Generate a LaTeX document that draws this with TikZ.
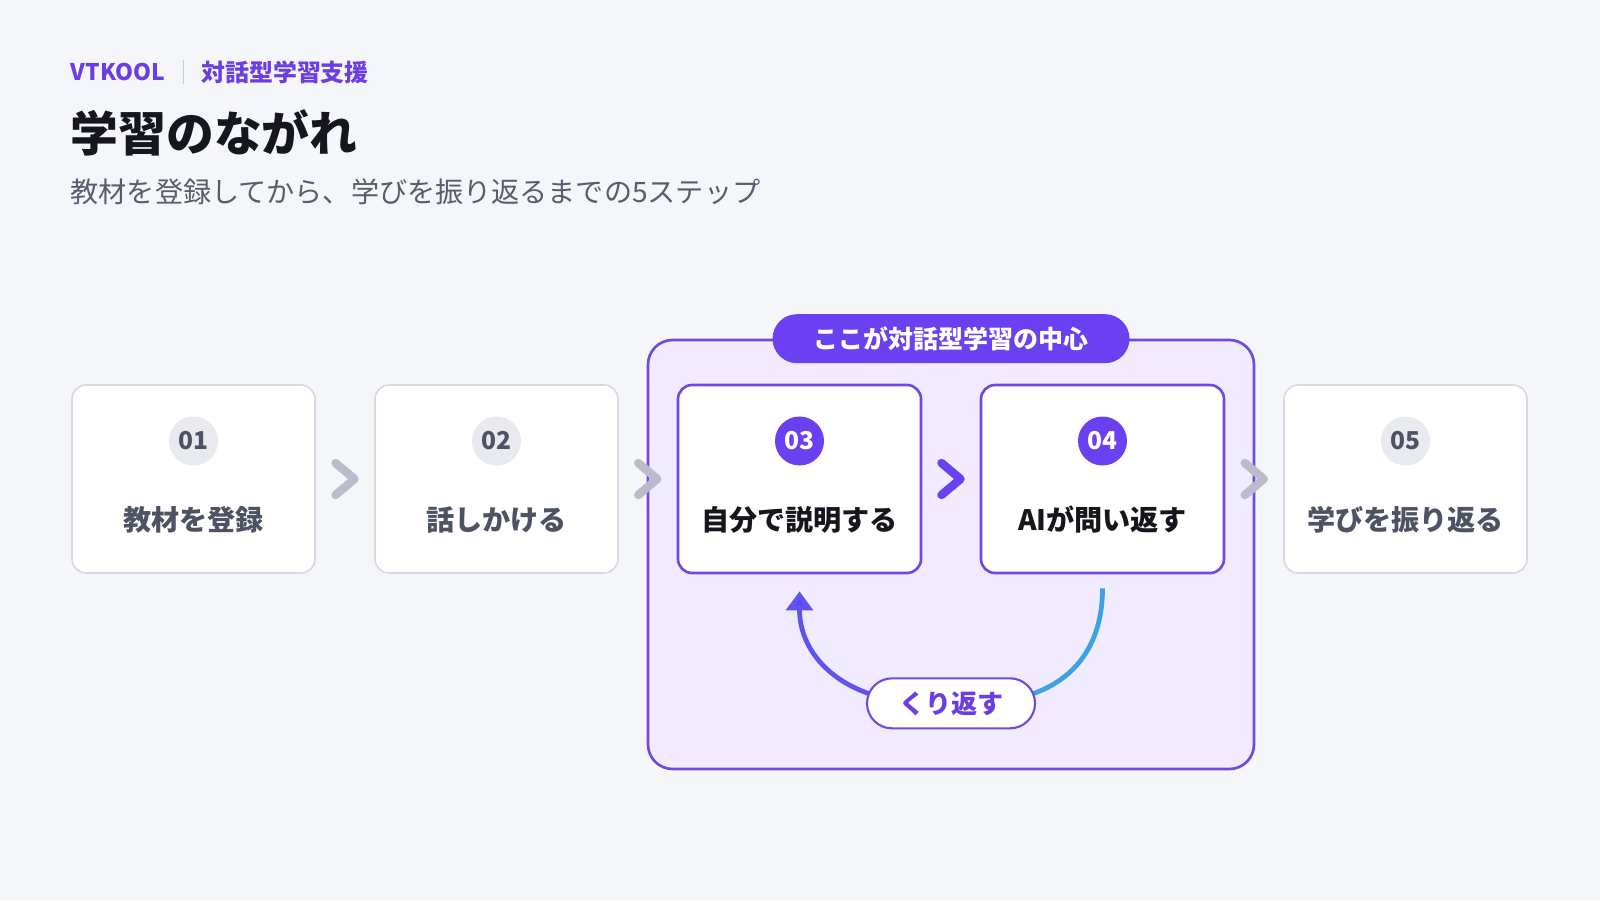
\documentclass[tikz,border=0pt]{standalone}
\usepackage{fontspec}
\setmainfont{Noto Sans CJK JP}
\usetikzlibrary{arrows.meta,positioning,calc}
\definecolor{pagebg}{RGB}{245,246,250}
\definecolor{brandink}{RGB}{106,62,228}
\definecolor{titleink}{RGB}{22,22,30}
\definecolor{subink}{RGB}{88,93,108}
\definecolor{idleline}{RGB}{214,217,226}
\definecolor{idledot}{RGB}{232,234,240}
\definecolor{idleink}{RGB}{78,83,100}
\definecolor{chevgray}{RGB}{186,188,206}
\definecolor{actpurple}{RGB}{106,64,240}
\definecolor{hubline}{RGB}{112,72,226}
\definecolor{hubfill}{RGB}{240,235,254}
\definecolor{loopviolet}{RGB}{96,84,238}
\definecolor{loopblue}{RGB}{60,162,226}
\definecolor{sepgray}{RGB}{200,202,215}
\newcommand{\fsz}[1]{\fontsize{#1}{#1}\selectfont}
\pgfdeclarelayer{front}
\pgfsetlayers{main,front}

\begin{document}
\begin{tikzpicture}[font=\fsz{8pt}, >=Latex,
  stepbox/.style={draw=idleline, line width=0.45pt, rounded corners=4pt, fill=white,
                  minimum width=24.3mm, minimum height=18.8mm},
  stepact/.style={stepbox, draw=hubline, line width=0.75pt},
  numdot/.style={circle, fill=idledot, minimum size=4.9mm, inner sep=0pt,
                 font=\fsz{7pt}\bfseries, text=idleink},
  numact/.style={numdot, fill=actpurple, text=white},
  steptxt/.style={inner sep=0pt, font=\fsz{8pt}\bfseries, text=idleink},
  chev/.style={chevgray, line width=2.4pt, line cap=round, line join=round},
  hubbox/.style={draw=hubline, line width=0.75pt, fill=hubfill, rounded corners=7pt,
                 minimum width=60.6mm, minimum height=42.9mm},
  hubpill/.style={fill=actpurple, rounded corners=2.45mm, minimum width=35.7mm,
                  minimum height=4.9mm, inner sep=0pt, text=white, font=\fsz{7.1pt}\bfseries},
  looppill/.style={draw=hubline, line width=0.6pt, fill=white, rounded corners=2.5mm,
                   minimum width=16.8mm, minimum height=5mm, inner sep=0pt,
                   text=brandink, font=\fsz{7.4pt}\bfseries},
  loopline/.style={line width=1.35pt}]

% --- page ---
\fill[pagebg] (0,0) rectangle (16,9);

% --- heading ---
\node[inner sep=0pt, anchor=west, font=\fsz{6.5pt}\bfseries, brandink] (brand) at (0.70,8.28) {VTKOOL};
\node[inner sep=0pt, right=3.5mm of brand, font=\fsz{6.8pt}\bfseries, brandink] (tagline) {対話型学習支援};
\draw[sepgray, line width=0.4pt] ($(brand.east)!0.5!(tagline.west)+(0,0.12)$) -- ++(0,-0.24);
\node[inner sep=0pt, anchor=west, font=\fsz{13.6pt}\bfseries, titleink] (title) at (0.70,7.67) {学習のながれ};
\node[inner sep=0pt, anchor=west, font=\fsz{8pt}, subink] (subtitle) at (0.70,7.08)
  {教材を登録してから、学びを振り返るまでの5ステップ};

% --- dialogue core ---
\node[hubbox] (hub) at (9.51,3.455) {};
\node[hubpill] (hubtag) at (hub.north) {ここが対話型学習の中心};

% --- plain steps ---
\foreach \x/\n/\lbl in {1.935/01/教材を登録, 4.965/02/話しかける, 14.055/05/学びを振り返る}{
  \node[stepbox] (s\n) at (\x,4.21) {};
  \node[numdot] (n\n) at ($(s\n)+(0,0.38)$) {\n};
  \node[steptxt] (t\n) at ($(s\n)+(0,-0.41)$) {\lbl};
}

% --- core steps ---
\node[stepact] (s03) at (7.995,4.21) {};
\node[numact] (n03) at ($(s03)+(0,0.38)$) {03};
\node[steptxt, titleink] (t03) at ($(s03)+(0,-0.41)$) {自分で説明する};
\node[stepact] (s04) at (11.025,4.21) {};
\node[numact] (n04) at ($(s04)+(0,0.38)$) {04};
\node[steptxt, titleink] (t04) at ($(s04)+(0,-0.41)$) {AIが問い返す};

% --- chevrons between steps ---
\foreach \a/\b in {01/02, 02/03, 04/05}{
  \draw[chev] ($(s\a.east)!0.5!(s\b.west)+(-0.095,0.16)$) -- ++(0.19,-0.16) -- ++(-0.19,-0.16);
}
\draw[chev, actpurple] ($(s03.east)!0.5!(s04.west)+(-0.095,0.16)$) -- ++(0.19,-0.16) -- ++(-0.19,-0.16);

% --- repeat loop ---
\begin{pgfonlayer}{front}
\node[looppill] (again) at ($(hub.south)+(0,0.67)$) {くり返す};
\end{pgfonlayer}
\coordinate (loopout) at ($(s04.south)+(0,-0.14)$);
\coordinate (loopin) at ($(s03.south)+(0,-0.17)$);
\draw[loopline, loopblue] (loopout) .. controls +(0,-0.55) and +(0.45,0.15) .. ($(again.east)+(-0.05,0.09)$);
\draw[loopline, loopviolet, -{Triangle[width=2.65mm,length=1.9mm,fill=actpurple]}]
  ($(again.west)+(0.05,0.09)$) .. controls +(-0.45,0.15) and +(0,-0.55) .. (loopin);
\end{tikzpicture}
\end{document}
